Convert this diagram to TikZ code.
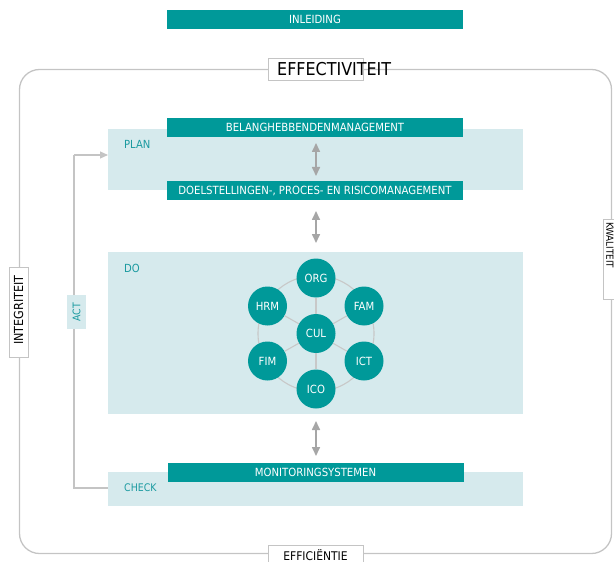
\documentclass[tikz,border=0pt]{standalone}
\usepackage{fontspec}
\setmainfont{DejaVu Sans Condensed}
\usetikzlibrary{arrows.meta}
\definecolor{tealbar}{RGB}{0,153,153}
\definecolor{panelfill}{RGB}{214,234,237}
\definecolor{labeltext}{RGB}{26,154,160}
\definecolor{framegray}{RGB}{196,196,196}
\definecolor{arrowgray}{RGB}{166,166,166}
\definecolor{spokegray}{RGB}{200,200,200}
\newcommand{\fsz}[1]{\fontsize{#1}{#1}\selectfont}
\begin{document}
\begin{tikzpicture}[x=1bp,y=-1bp,
  bar/.style={fill=tealbar, text=white, minimum width=296bp, minimum height=19bp,
    inner sep=0pt, font=\fsz{11.3}},
  panel/.style={fill=panelfill, minimum width=415bp, inner sep=0pt},
  phase/.style={text=labeltext, anchor=west, inner sep=0pt, font=\fsz{11.2}},
  tag/.style={draw=framegray, fill=white, line width=0.8bp, inner sep=0pt},
  dimtext/.style={text=black, inner sep=0pt},
  unitdisc/.style={circle, fill=tealbar, text=white, minimum size=39bp, inner sep=0pt,
    font=\fsz{11.3}},
  spoke/.style={draw=spokegray, line width=1.1bp},
  twoway/.style={draw=arrowgray, line width=1.6bp,
    {Triangle[width=8bp,length=9bp]}-{Triangle[width=8bp,length=9bp]}},
  loopline/.style={draw=framegray, line width=1.1bp},
]
\useasboundingbox (0,0) rectangle (614,562);
\begin{scope}
\clip (0,0) rectangle (614,562);

% header bar
\node[bar] (intro) at (315,19.5) {INLEIDING};

% outer frame
\node[draw=framegray, line width=1.3bp, rounded corners=20bp, minimum width=592bp,
  minimum height=484bp, inner sep=0pt] (frame) at (315.5,311.5) {};

% phase panels
\node[panel, minimum height=61bp] (plan) at (315.5,159.5) {};
\node[panel, minimum height=162bp] (do) at (315.5,333) {};
\node[panel, minimum height=34bp] (check) at (315.5,489) {};

\node[phase] (planlbl) at (124,144) {PLAN};
\node[phase] (dolbl) at (124,268) {DO};
\node[phase, font=\fsz{10.5}] (checklbl) at (124,488) {CHECK};

% management bars
\node[bar] (stake) at (315,127.5) {BELANGHEBBENDENMANAGEMENT};
\node[bar] (goals) at (315,190.5) {DOELSTELLINGEN-, PROCES- EN RISICOMANAGEMENT};
\node[bar] (monitor) at (315.5,472) {MONITORINGSYSTEMEN};

% two-way arrows
\coordinate (a1) at (316,143); \coordinate (a2) at (316,176);
\coordinate (b1) at (316,211); \coordinate (b2) at (316,243);
\coordinate (c1) at (316,421); \coordinate (c2) at (316,456);
\draw[twoway] (a1) -- (a2);
\draw[twoway] (b1) -- (b2);
\draw[twoway] (c1) -- (c2);

% ACT feedback loop
\coordinate (actlow) at (74,488);
\coordinate (acthigh) at (74,155);
\coordinate (planin) at (108,155);
\draw[loopline] (check.west |- actlow) -- (actlow) -- (acthigh);
\draw[loopline, -{Triangle[width=7bp,length=8bp]}] (acthigh) -- (planin);
\node[fill=panelfill, text=labeltext, rotate=90, minimum width=34bp, minimum height=19bp,
  inner sep=0pt, font=\fsz{10.5}] (act) at (76.5,312) {ACT};

% domain ring with spokes
\coordinate (hub) at (316,333.5);
\draw[spoke] (hub) circle (58bp);
\node[unitdisc] (cul) at (hub) {CUL};
\node[unitdisc] (org) at (316,278) {ORG};
\node[unitdisc] (fam) at (364,306) {FAM};
\node[unitdisc] (ict) at (364,361) {ICT};
\node[unitdisc] (ico) at (316,389) {ICO};
\node[unitdisc] (fim) at (267.5,361) {FIM};
\node[unitdisc] (hrm) at (267.5,306) {HRM};
\foreach \d in {org,fam,ict,ico,fim,hrm}
  \draw[spoke] (cul) -- (\d);

% quality dimensions on the frame
\node[tag, minimum width=95bp, minimum height=22bp] (effbox) at (315.5,69) {};
\node[dimtext, anchor=west, font=\fsz{17.8}] (eff) at (277,69) {EFFECTIVITEIT};
\node[tag, minimum width=95bp, minimum height=24bp] (efcbox) at (315.5,557) {};
\node[dimtext, font=\fsz{12}] (efc) at (315.5,555) {EFFICIËNTIE};
\node[tag, minimum width=19bp, minimum height=90bp] (intbox) at (18.5,312) {};
\node[dimtext, rotate=90, font=\fsz{12.5}] (int) at (18.5,310) {INTEGRITEIT};
\node[tag, minimum width=24bp, minimum height=80bp] (kwabox) at (615,259) {};
\node[dimtext, rotate=-90, anchor=west, font=\fsz{9.8}] (kwa) at (610,222) {KWALITEIT};
\end{scope}
\end{tikzpicture}
\end{document}
